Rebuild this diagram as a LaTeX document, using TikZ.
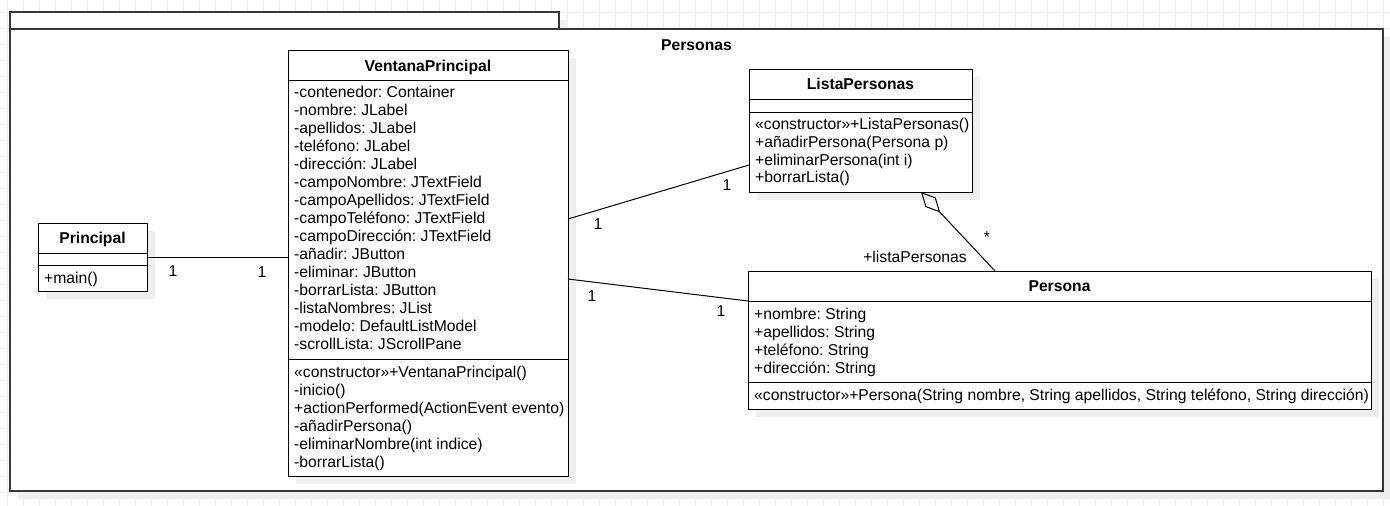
\documentclass[tikz,border=0pt]{standalone}
\usepackage{fontspec}
\setmainfont{Liberation Sans}
\usetikzlibrary{calc,arrows.meta,shadows}
\definecolor{gridc}{HTML}{EDEDED}
\definecolor{shadc}{HTML}{EFEFEF}
\definecolor{pkgc}{HTML}{383838}
\frenchspacing
\begin{document}
\begin{tikzpicture}[x=1pt,y=-1pt,
  txt/.style={inner sep=0pt, anchor=base west, font=\fontsize{15.7}{18}\selectfont},
  ttl/.style={inner sep=0pt, anchor=base, font=\fontsize{15.7}{18}\selectfont\bfseries},
  lbl/.style={inner sep=0pt, anchor=center, font=\fontsize{15.7}{18}\selectfont},
  cbox/.style={draw=black, line width=1pt, fill=white, inner sep=0pt, outer sep=0pt,
    general shadow={fill=shadc, shadow xshift=8pt, shadow yshift=-8pt}},
  pkgbox/.style={draw=pkgc, line width=1.6pt, fill=white, inner sep=0pt, outer sep=0pt,
    general shadow={fill=shadc, shadow xshift=8pt, shadow yshift=-8pt}},
  cline/.style={draw=black, line width=1pt},
  assoc/.style={draw=black, line width=1pt},
  aggr/.style={draw=black, line width=1pt, {Diamond[open, length=28pt, width=14pt, line width=1pt]}-}
]
\useasboundingbox (0,0) rectangle (1390,506);
\fill[white] (0,0) rectangle (1390,506);
% grid
\foreach \k in {0,...,86} \draw[gridc, line width=1pt] ({7.3+16*\k},0) -- ({7.3+16*\k},506);
\foreach \k in {0,...,31} \draw[gridc, line width=1pt] (0,{12.3+16*\k}) -- (1390,{12.3+16*\k});

% package
\node[pkgbox, minimum width=549pt, minimum height=17pt] (tab) at (284.5,20.5) {};
\node[pkgbox, minimum width=1373pt, minimum height=462pt] (pkg) at (696.5,260) {};
\node[ttl] (pkgname) at (696.5,50) {Personas};

% Principal
\node[cbox, minimum width=109pt, minimum height=68pt] (pr) at (92.5,257) {};
\draw[cline] ($(pr.north west)+(0,30)$) -- ($(pr.north east)+(0,30)$);
\draw[cline] ($(pr.north west)+(0,42)$) -- ($(pr.north east)+(0,42)$);
\node[ttl] (prn) at ($(pr.north)+(0,20)$) {Principal};
\node[txt] (prm0) at ($(pr.north west)+(6,60.5)$) {+main()};

% VentanaPrincipal
\node[cbox, minimum width=280pt, minimum height=426pt] (vp) at (428,263) {};
\draw[cline] ($(vp.north west)+(0,30)$) -- ($(vp.north east)+(0,30)$);
\draw[cline] ($(vp.north west)+(0,309)$) -- ($(vp.north east)+(0,309)$);
\node[ttl] (vpn) at ($(vp.north)+(0,21.5)$) {VentanaPrincipal};
\foreach \t [count=\i from 0] in {-contenedor: Container, -nombre: JLabel, -apellidos: JLabel,
  -teléfono: JLabel, -dirección: JLabel, -campoNombre: JTextField, -campoApellidos: JTextField,
  -campoTeléfono: JTextField, -campoDirección: JTextField, -añadir: JButton, -eliminar: JButton,
  -borrarLista: JButton, -listaNombres: JList, -modelo: DefaultListModel, -scrollLista: JScrollPane}
  \node[txt] (vpa\i) at ($(vp.north west)+(6,47.5+18*\i)$) {\t};
\foreach \t [count=\i from 0] in {«constructor»+VentanaPrincipal(), -inicio(),
  +actionPerformed(ActionEvent evento), -añadirPersona(), -eliminarNombre(int indice), -borrarLista()}
  \node[txt] (vpm\i) at ($(vp.north west)+(6,327.5+18*\i)$) {\t};

% ListaPersonas
\node[cbox, minimum width=223pt, minimum height=123pt] (lp) at (860.5,130.5) {};
\draw[cline] ($(lp.north west)+(0,30)$) -- ($(lp.north east)+(0,30)$);
\draw[cline] ($(lp.north west)+(0,43)$) -- ($(lp.north east)+(0,43)$);
\node[ttl] (lpn) at ($(lp.north)+(0,20)$) {ListaPersonas};
\foreach \t [count=\i from 0] in {«constructor»+ListaPersonas(), +añadirPersona(Persona p),
  +eliminarPersona(int i), +borrarLista()}
  \node[txt] (lpm\i) at ($(lp.north west)+(6,60.5+17.8*\i)$) {\t};

% Persona
\node[cbox, minimum width=623pt, minimum height=138pt] (ps) at (1059.5,340) {};
\draw[cline] ($(ps.north west)+(0,30)$) -- ($(ps.north east)+(0,30)$);
\draw[cline] ($(ps.north west)+(0,111)$) -- ($(ps.north east)+(0,111)$);
\node[ttl] (psn) at ($(ps.north)+(0,20)$) {Persona};
\foreach \t [count=\i from 0] in {+nombre: String, +apellidos: String, +teléfono: String, +dirección: String}
  \node[txt] (psa\i) at ($(ps.north west)+(6,48+18*\i)$) {\t};
\node[txt] (psm0) at ($(ps.north west)+(6,129.5)$) {«constructor»+Persona(String nombre, String apellidos, String teléfono, String dirección)};

% connectors
\draw[assoc] (pr.east) -- (pr.east -| vp.west);
\draw[assoc] ($(vp.north east)+(0,169)$) -- ($(lp.north west)+(0,96)$);
\draw[assoc] ($(vp.north east)+(0,229)$) -- ($(ps.north west)+(0,30)$);
\draw[aggr] ($(lp.south west)+(172,0)$) -- ($(ps.north west)+(247,0)$);

% labels
\node[lbl] (l1) at (173,271) {1};
\node[lbl] (l2) at (262,272) {1};
\node[lbl] (l3) at (598,224) {1};
\node[lbl] (l4) at (727,185) {1};
\node[lbl] (l5) at (592,296) {1};
\node[lbl] (l6) at (721,311) {1};
\node[lbl] (l7) at (987,237) {*};
\node[lbl] (l8) at (915,257) {+listaPersonas};
\end{tikzpicture}
\end{document}
